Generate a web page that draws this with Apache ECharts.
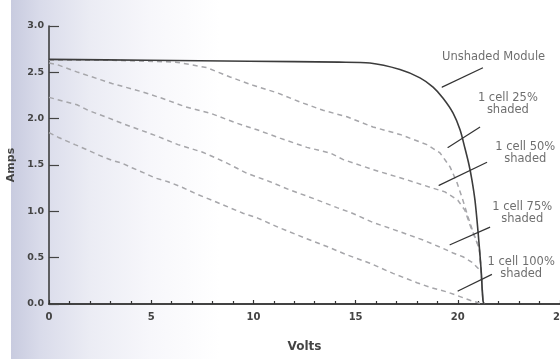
<!DOCTYPE html>
<html><head><meta charset="utf-8">
<script src="https://cdn.jsdelivr.net/npm/echarts@6/dist/echarts.min.js"></script>
<style>html,body{margin:0;padding:0;background:#fff}
#c{width:560px;height:359px;background:linear-gradient(to right,#ffffff 0px,#ffffff 11px,#c8cbdf 11px,#d9dbea 40px,#ebecf4 90px,#f7f7fb 150px,#ffffff 220px)}</style>
</head><body><div id="c"></div>
<script>
// Tick values
const xTicks = [0, 5, 10, 15, 20, 25];
const yTicks = [0, 0.5, 1.0, 1.5, 2.0, 2.5, 3.0];

// Series values [Volts, Amps]
const unshaded = [[0,2.64],[4.9,2.63],[9.8,2.62],[14.2,2.61],[15.7,2.60],[17.17,2.53],[18.15,2.44],[18.79,2.34],[19.28,2.22],[19.77,2.06],[20.11,1.88],[20.35,1.68],[20.55,1.50],[20.69,1.34],[20.84,1.12],[20.99,0.78],[21.13,0.40],[21.23,0.04],[21.28,0]];
const shaded25 = [[0,2.63],[3,2.63],[6.2,2.61],[7.0,2.58],[7.73,2.55],[8.86,2.45],[9.98,2.36],[11.15,2.28],[12.28,2.18],[13.41,2.09],[14.58,2.02],[15.85,1.91],[17.17,1.83],[18.49,1.72],[19.13,1.63],[19.62,1.48],[19.96,1.31],[20.25,1.12],[20.5,0.94],[20.74,0.78],[21.05,0.6],[21.13,0.40],[21.23,0.04],[21.28,0]];
const shaded50 = [[0,2.60],[0.44,2.58],[1.42,2.50],[3.08,2.38],[4.55,2.29],[5.53,2.22],[6.65,2.13],[7.88,2.06],[9.2,1.95],[10.18,1.88],[11.3,1.79],[12.62,1.69],[13.75,1.63],[14.38,1.56],[15.85,1.45],[17.51,1.34],[18.64,1.26],[19.37,1.21],[20.0,1.12],[20.35,1.01],[20.6,0.85],[21.05,0.6],[21.13,0.40],[21.23,0.04],[21.28,0]];
const shaded75 = [[0,2.23],[1.37,2.15],[1.91,2.09],[2.89,2.01],[3.57,1.95],[4.06,1.91],[5.19,1.82],[6.31,1.72],[7.49,1.64],[8.12,1.58],[8.71,1.52],[9.69,1.41],[10.81,1.32],[11.79,1.23],[12.92,1.14],[14.09,1.04],[14.73,0.99],[15.85,0.88],[17.17,0.78],[18.3,0.69],[19.28,0.60],[19.77,0.55],[20.25,0.51],[20.7,0.45],[21.15,0.35],[21.23,0.04],[21.28,0]];
const shaded100 = [[0,1.85],[0.44,1.80],[1.27,1.72],[1.91,1.66],[2.4,1.61],[3.08,1.55],[3.57,1.52],[4.06,1.47],[4.7,1.41],[5.19,1.36],[5.82,1.32],[6.51,1.26],[7.29,1.18],[7.97,1.12],[8.51,1.07],[9.49,0.98],[10.18,0.93],[11.3,0.82],[12.43,0.72],[13.6,0.62],[14.58,0.53],[15.7,0.44],[16.83,0.33],[18.0,0.23],[18.64,0.18],[19.47,0.13],[20.11,0.08],[20.6,0.04],[21.2,0]];

// Annotations
const annoText = ['Unshaded Module', '1 cell 25%\nshaded', '1 cell 50%\nshaded', '1 cell 75%\nshaded', '1 cell 100%\nshaded'];
const annoPos = [[21.75,2.67],[22.45,2.16],[23.3,1.63],[23.15,0.98],[23.1,0.39]];
const arrowFrom = [[21.23,2.55],[21.09,1.91],[21.43,1.53],[21.58,0.83],[21.67,0.32]];
const arrowTo = [[19.23,2.34],[19.52,1.69],[19.08,1.28],[19.62,0.64],[20.01,0.14]];

const FONT = "'DejaVu Sans','Noto Sans',sans-serif";
const chart = echarts.init(document.getElementById('c'));

const dashStyle = {color:'#a6a6aa', width:1.5, type:[5,4]};
function dashed(name, data){
  return {name, type:'line', data, showSymbol:false, symbol:'none', lineStyle:dashStyle, z:2, silent:true};
}

chart.setOption({
  animation:false,
  backgroundColor:'transparent',
  grid:{left:49, right:0, top:26, bottom:55, containLabel:false, outerBoundsMode:'none'},
  xAxis:[{
    type:'value', min:0, max:25, interval:5,
    name:'Volts', nameLocation:'middle', nameGap:37,
    nameTextStyle:{fontFamily:FONT, fontSize:12, color:'#444', fontWeight:'bold'},
    axisLine:{show:true, onZero:false, lineStyle:{color:'#333', width:1.5}},
    axisTick:{show:true, inside:true, length:4, lineStyle:{color:'#333', width:1.2}},
    minorTick:{show:true, splitNumber:5, length:3, lineStyle:{color:'#333', width:1.2}},
    axisLabel:{fontFamily:FONT, fontSize:10, color:'#444', fontWeight:'bold', margin:8, formatter:v=>xTicks.includes(v)?String(v):''},
    splitLine:{show:false}
  },{
    type:'value', min:0, max:25, position:'top',
    axisLine:{show:true, lineStyle:{color:'#3a3a3a', width:1.6}},
    axisTick:{show:false}, axisLabel:{show:false}, splitLine:{show:false}
  }],
  yAxis:{
    type:'value', min:0, max:3, interval:0.5,
    name:'Amps', nameLocation:'middle', nameGap:24, nameRotate:90,
    nameTextStyle:{fontFamily:FONT, fontSize:11, color:'#444', fontWeight:'bold'},
    axisLine:{show:true, lineStyle:{color:'#333', width:1.5}},
    axisTick:{show:true, inside:true, length:10, lineStyle:{color:'#444', width:1.2}},
    axisLabel:{fontFamily:FONT, fontSize:9.5, color:'#444', fontWeight:'bold', margin:5, formatter:v=>yTicks.includes(v)?v.toFixed(1):''},
    splitLine:{show:false}
  },
  series:[
    {name:'Unshaded Module', type:'line', data:unshaded, showSymbol:false, symbol:'none', smooth:0.3,
     lineStyle:{color:'#3c3c3c', width:1.6}, z:3, silent:true},
    dashed('1 cell 25% shaded', shaded25),
    dashed('1 cell 50% shaded', shaded50),
    dashed('1 cell 75% shaded', shaded75),
    dashed('1 cell 100% shaded', shaded100),
    {name:'arrows', type:'line', data:[], silent:true,
     markLine:{silent:true, symbol:['none','circle'], symbolSize:[1,4], label:{show:false},
       lineStyle:{color:'#333', width:1.2, type:'solid'},
       data: arrowFrom.map((f,i)=>[{coord:f},{coord:arrowTo[i]}])}, z:4},
    {name:'labels', type:'scatter', data:annoPos.map((p,i)=>({value:p, name:annoText[i]})), symbolSize:0, silent:true,
     label:{show:true, position:'inside', formatter:p=>p.name, fontFamily:FONT, fontSize:11.5, color:'#4a4a4a', lineHeight:12, align:'center'}, z:5}
  ]
});
</script></body></html>
